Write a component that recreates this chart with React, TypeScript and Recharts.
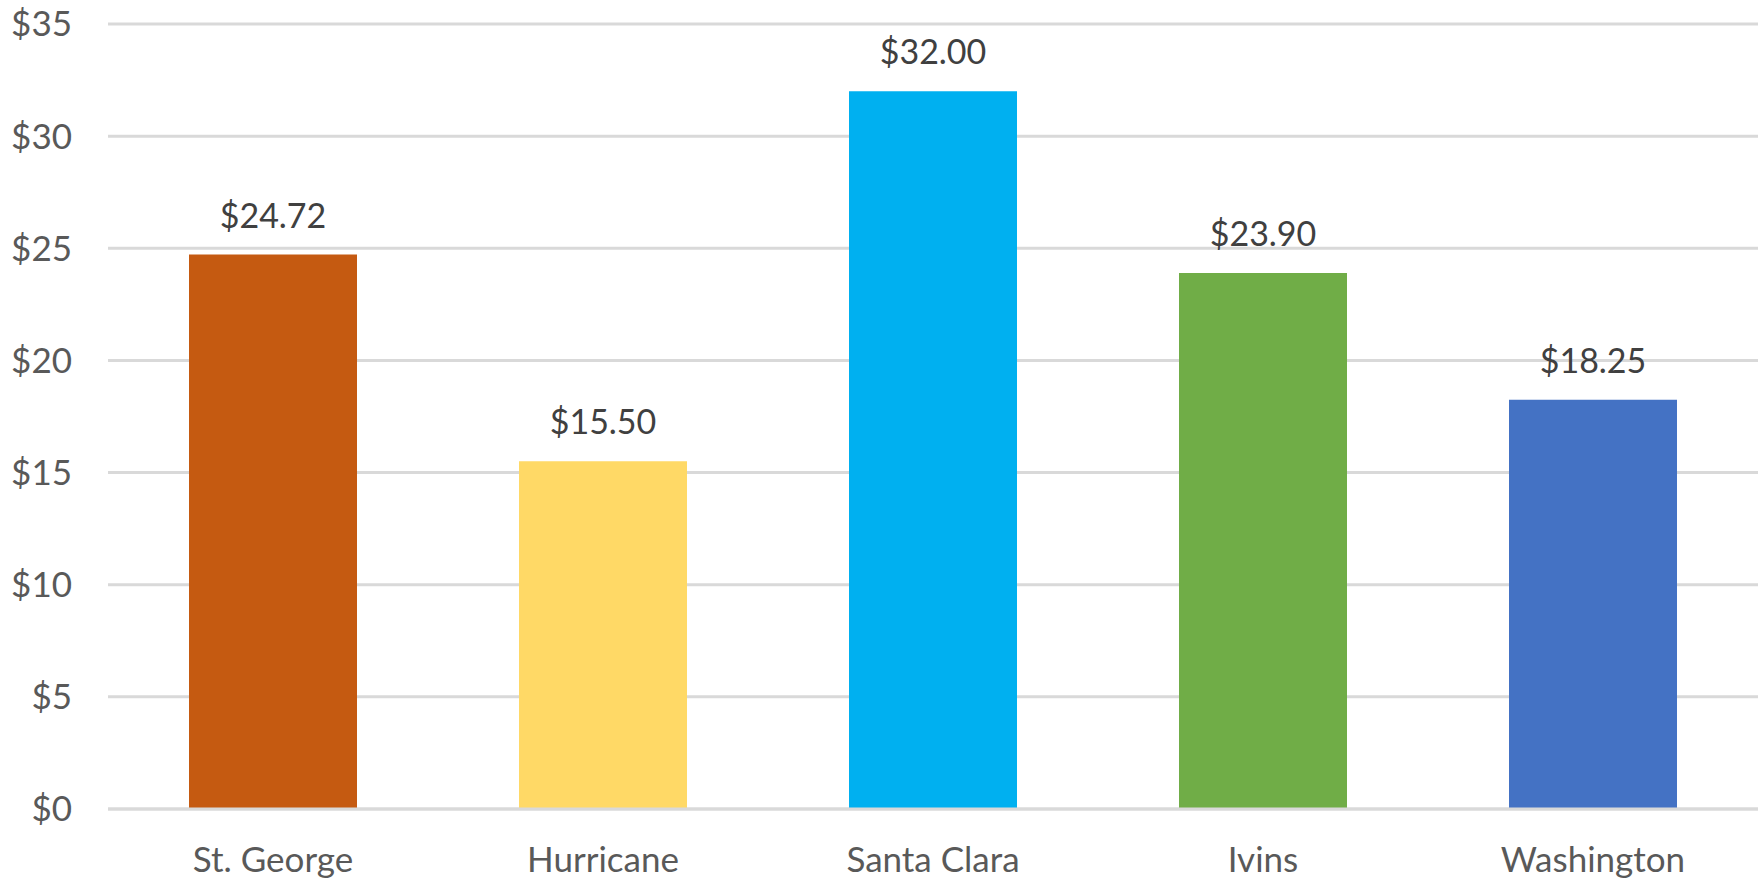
import { BarChart, Bar, XAxis, YAxis, CartesianGrid, Cell, LabelList } from "recharts";

const cities = ["St. George", "Hurricane", "Santa Clara", "Ivins", "Washington"];
const prices = [24.72, 15.5, 32.0, 23.9, 18.25];
const barColors = ["#C55A11", "#FFD966", "#00B0F0", "#70AD47", "#4472C4"];
const yTicks = [0, 5, 10, 15, 20, 25, 30, 35];

const data = cities.map((city, i) => ({ city, price: prices[i] }));

const FONT = "Lato, 'Open Sans', sans-serif";

export default function App() {
  return (
    <div style={{ position: "absolute", left: 0, top: 0, background: "#fff" }}>
      <BarChart
        width={1762}
        height={881}
        data={data}
        margin={{ top: 24, right: 4, left: 0, bottom: 0 }}
      >
        <CartesianGrid vertical={false} stroke="#d9d9d9" strokeWidth={3} />
        <XAxis
          dataKey="city"
          height={72}
          axisLine={{ stroke: "#d9d9d9", strokeWidth: 3 }}
          tickLine={false}
          tick={{ fill: "#595959", fontSize: 35, fontFamily: FONT }}
          tickMargin={32}
        />
        <YAxis
          width={108}
          domain={[0, 35]}
          ticks={yTicks}
          axisLine={false}
          tickLine={false}
          tick={{ fill: "#595959", fontSize: 35, fontFamily: FONT }}
          tickFormatter={(v) => `$${v}`}
          tickMargin={30}
        />
        <Bar dataKey="price" barSize={168} isAnimationActive={false}>
          {data.map((_, i) => (
            <Cell key={i} fill={barColors[i]} />
          ))}
          <LabelList
            dataKey="price"
            position="top"
            offset={27}
            fill="#404040"
            fontSize={34}
            fontFamily={FONT}
            formatter={(v: any) => `$${Number(v).toFixed(2)}`}
          />
        </Bar>
      </BarChart>
    </div>
  );
}
